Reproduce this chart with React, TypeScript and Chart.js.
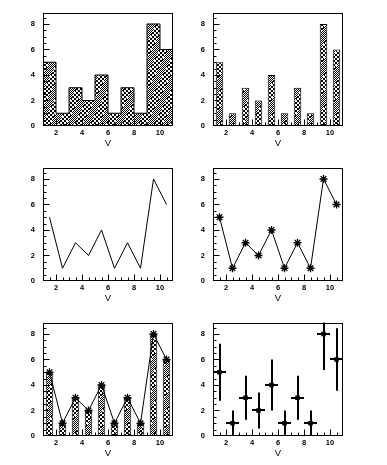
import React, { useEffect, useRef } from 'react';
import { Chart, registerables } from 'chart.js';

Chart.register(...registerables);

// ---- data ----
const binCenters = [1.5, 2.5, 3.5, 4.5, 5.5, 6.5, 7.5, 8.5, 9.5, 10.5];
const binEdges = [1, 2, 3, 4, 5, 6, 7, 8, 9, 10, 11];
const counts = [5, 1, 3, 2, 4, 1, 3, 1, 8, 6];
const yErrors = [2.24, 1, 1.73, 1.41, 2, 1, 1.73, 1, 2.83, 2.45];
const xHalfWidths = [0.5, 0.5, 0.5, 0.5, 0.5, 0.5, 0.5, 0.5, 0.5, 0.5];
const xTickLabels = [2, 4, 6, 8, 10];
const yTickLabels = [0, 2, 4, 6, 8];
const xRange = [1, 11];
const yRange = [0, 8.9];
const axisTitle = 'V';

const FONT = 'Liberation Sans, Arial, Helvetica, sans-serif';
const tickFont = { family: FONT, size: 7.5, weight: 'bold' as const };
const titleFont = { family: FONT, size: 9.5, weight: 'normal' as const };

type Kind = 'hist' | 'bars' | 'line' | 'lineStar' | 'barsLineStar' | 'errors';

function makePattern(ctx: CanvasRenderingContext2D): CanvasPattern | string {
  const c = document.createElement('canvas');
  c.width = 16;
  c.height = 32;
  const g = c.getContext('2d');
  if (!g) return '#888';
  const img = g.createImageData(16, 32);
  for (let y = 0; y < 32; y++) {
    for (let x = 0; x < 16; x++) {
      const band = Math.floor((x + Math.floor(y / 2)) / 8) % 2;
      const black = band === 0 ? (x + y) % 2 === 0 : (Math.floor(x / 2) + Math.floor(y / 2)) % 2 === 0;
      const i = (y * 16 + x) * 4;
      const v = black ? 0 : 255;
      img.data[i] = v;
      img.data[i + 1] = v;
      img.data[i + 2] = v;
      img.data[i + 3] = 255;
    }
  }
  g.putImageData(img, 0, 0);
  return ctx.createPattern(c, 'repeat') || '#888';
}

const framePlugin = {
  id: 'rootFrame',
  afterDatasetsDraw(chart: any) {
    const { ctx, chartArea: a, scales } = chart;
    const xs = scales.x;
    const ys = scales.y;
    ctx.save();
    ctx.strokeStyle = '#000';
    ctx.lineWidth = 1;
    const L = Math.round(a.left) + 0.5;
    const R = Math.round(a.right) - 0.5;
    const T = Math.round(a.top) + 0.5;
    const B = Math.round(a.bottom) - 0.5;
    ctx.strokeRect(L, T, R - L, B - T);
    ctx.beginPath();
    for (let k = 1; k * 0.5 + xRange[0] < xRange[1] - 1e-6; k++) {
      const v = xRange[0] + k * 0.5;
      const len = xTickLabels.includes(v) ? 6 : 3;
      const px = Math.round(xs.getPixelForValue(v)) + 0.5;
      ctx.moveTo(px, B);
      ctx.lineTo(px, B - len);
    }
    for (let k = 1; k * 0.5 + yRange[0] < yRange[1] - 1e-6; k++) {
      const v = yRange[0] + k * 0.5;
      const len = yTickLabels.includes(v) ? 6 : 3;
      const py = Math.round(ys.getPixelForValue(v)) + 0.5;
      ctx.moveTo(L, py);
      ctx.lineTo(L + len, py);
    }
    ctx.stroke();
    ctx.restore();
  },
};

const errorBarPlugin = {
  id: 'errBars',
  beforeDatasetsDraw(chart: any) {
    const { ctx, chartArea: a, scales } = chart;
    const x = scales.x;
    const y = scales.y;
    ctx.save();
    ctx.beginPath();
    ctx.rect(a.left, a.top, a.right - a.left, a.bottom - a.top);
    ctx.clip();
    ctx.strokeStyle = '#000';
    ctx.lineWidth = 2;
    ctx.beginPath();
    binCenters.forEach((cx, i) => {
      const px = Math.round(x.getPixelForValue(cx));
      const py = Math.round(y.getPixelForValue(counts[i]));
      ctx.moveTo(px, y.getPixelForValue(counts[i] - yErrors[i]));
      ctx.lineTo(px, y.getPixelForValue(counts[i] + yErrors[i]));
      ctx.moveTo(x.getPixelForValue(cx - xHalfWidths[i]), py);
      ctx.lineTo(x.getPixelForValue(cx + xHalfWidths[i]), py);
    });
    ctx.stroke();
    ctx.restore();
  },
};

function buildConfig(kind: Kind, ctx: CanvasRenderingContext2D, canvasW: number, plotLeft: number, plotRight: number): any {
  const pattern = makePattern(ctx);
  const pts = binCenters.map((x, i) => ({ x, y: counts[i] }));
  const outline = binEdges.map((e, i) => ({ x: e, y: counts[Math.min(i, counts.length - 1)] }));

  const barDs = {
    type: 'bar',
    data: pts,
    backgroundColor: pattern,
    borderColor: '#000',
    borderWidth: 1,
    borderSkipped: false,
    barPercentage: 0.58,
    categoryPercentage: 1,
    order: 2,
  };
  const lineDs = {
    type: 'line',
    data: pts,
    borderColor: '#000',
    borderWidth: 1,
    pointRadius: 0,
    fill: false,
    tension: 0,
    order: 1,
  };
  const starDs = {
    ...lineDs,
    pointStyle: 'star',
    pointRadius: 4,
    pointBorderWidth: 1.3,
    pointBorderColor: '#000',
    pointBackgroundColor: '#000',
  };

  let datasets: any[] = [];
  const plugins: any[] = [framePlugin];
  if (kind === 'hist') {
    datasets = [
      {
        type: 'line',
        data: outline,
        stepped: 'before',
        fill: 'origin',
        backgroundColor: pattern,
        borderColor: '#000',
        borderWidth: 1,
        pointRadius: 0,
      },
    ];
  } else if (kind === 'bars') {
    datasets = [barDs];
  } else if (kind === 'line') {
    datasets = [lineDs];
  } else if (kind === 'lineStar') {
    datasets = [starDs];
  } else if (kind === 'barsLineStar') {
    datasets = [starDs, barDs];
  } else {
    datasets = [
      {
        type: 'line',
        data: pts,
        showLine: false,
        pointStyle: 'rect',
        pointRadius: 3.2,
        pointBorderWidth: 0,
        pointBackgroundColor: '#000',
        pointBorderColor: '#000',
      },
    ];
    plugins.push(errorBarPlugin);
  }

  return {
    type: 'bar',
    data: { datasets },
    plugins,
    options: {
      responsive: false,
      animation: false,
      events: [],
      layout: { padding: { left: 0, top: 9, right: canvasW - plotRight, bottom: 0 } },
      plugins: { legend: { display: false }, tooltip: { enabled: false } },
      scales: {
        x: {
          type: 'linear',
          min: xRange[0],
          max: xRange[1],
          offset: false,
          grid: { display: false, drawTicks: false, offset: false },
          border: { display: false },
          ticks: { color: '#000', font: tickFont, padding: 2, maxRotation: 0, autoSkip: false },
          afterBuildTicks: (s: any) => {
            s.ticks = xTickLabels.map((v) => ({ value: v }));
          },
          afterFit: (s: any) => {
            s.height = 29;
          },
          title: { display: true, text: axisTitle, color: '#000', font: titleFont, padding: { top: 0, bottom: 6 } },
        },
        y: {
          type: 'linear',
          min: yRange[0],
          max: yRange[1],
          grid: { display: false, drawTicks: false },
          border: { display: false },
          ticks: { color: '#000', font: tickFont, padding: 8, autoSkip: false },
          afterBuildTicks: (s: any) => {
            s.ticks = yTickLabels.map((v) => ({ value: v }));
          },
          afterFit: (s: any) => {
            s.width = plotLeft;
          },
        },
      },
    },
  };
}

function Panel({ kind, col, row }: { kind: Kind; col: number; row: number }) {
  const ref = useRef<HTMLCanvasElement>(null);
  const w = col === 0 ? 193 : 194;
  const left = col === 0 ? 0 : 193;
  const plotLeft = col === 0 ? 43 : 20;
  const plotRight = col === 0 ? 173 : 150;
  useEffect(() => {
    const canvas = ref.current;
    if (!canvas) return;
    const ctx = canvas.getContext('2d');
    if (!ctx) return;
    const chart = new Chart(ctx, buildConfig(kind, ctx, w, plotLeft, plotRight));
    return () => chart.destroy();
  }, [kind, w, plotLeft, plotRight]);
  return (
    <canvas
      ref={ref}
      width={w}
      height={155}
      style={{ position: 'absolute', left, top: row * 155, width: w, height: 155 }}
    />
  );
}

export default function App() {
  const panels: { kind: Kind; col: number; row: number }[] = [
    { kind: 'hist', col: 0, row: 0 },
    { kind: 'bars', col: 1, row: 0 },
    { kind: 'line', col: 0, row: 1 },
    { kind: 'lineStar', col: 1, row: 1 },
    { kind: 'barsLineStar', col: 0, row: 2 },
    { kind: 'errors', col: 1, row: 2 },
  ];
  return (
    <div style={{ position: 'absolute', left: 0, top: 0, width: 387, height: 465, background: '#fff' }}>
      {panels.map((p) => (
        <Panel key={p.kind} {...p} />
      ))}
    </div>
  );
}
